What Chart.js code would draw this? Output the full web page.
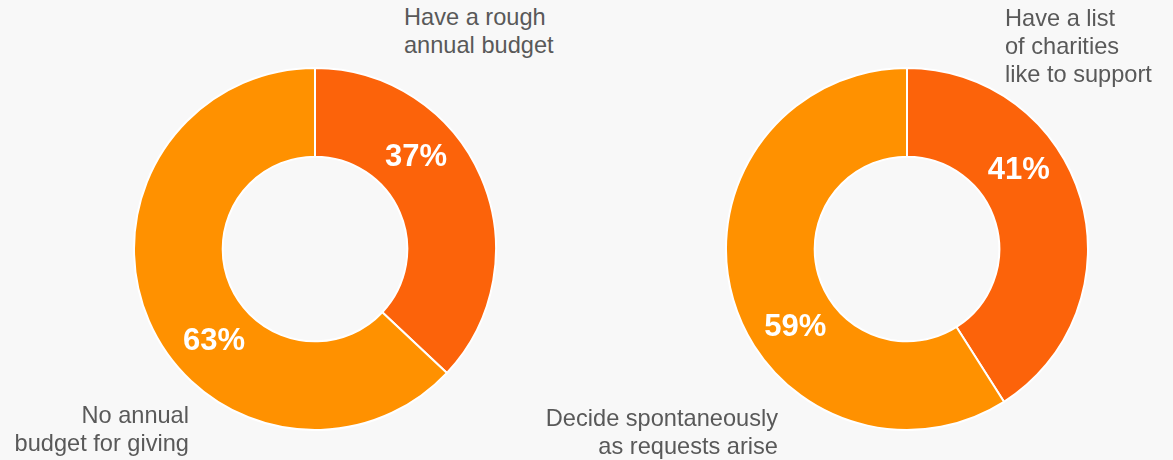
<!DOCTYPE html>
<html>
<head>
<meta charset="utf-8">
<script src="https://cdn.jsdelivr.net/npm/chart.js@4"></script>
<style>
  html, body { margin: 0; padding: 0; background: #f8f8f8; }
  #wrap { position: relative; width: 1173px; height: 460px; overflow: hidden; font-family: "Liberation Sans", Arial, sans-serif; }
  .box { position: absolute; width: 364px; height: 364px; top: 67px; }
  .lbl { position: absolute; font-size: 23.6px; line-height: 28px; color: #595959; white-space: nowrap; }
  .right { text-align: right; }
</style>
</head>
<body>
<div id="wrap">
  <div class="box" style="left:133px"><canvas id="budget"></canvas></div>
  <div class="box" style="left:725px"><canvas id="charities"></canvas></div>

  <div class="lbl" style="left:404px; top:3px">Have a rough<br>annual budget</div>
  <div class="lbl right" style="right:984px; top:401px">No annual<br>budget for giving</div>
  <div class="lbl" style="left:1005px; top:4px">Have a list<br>of charities<br>like to support</div>
  <div class="lbl right" style="right:395px; top:404px">Decide spontaneously<br>as requests arise</div>
</div>

<script>
// chart data
var budgetLabels = ['Have a rough annual budget', 'No annual budget for giving'];
var budgetValues = [37, 63];

var charityLabels = ['Have a list of charities like to support', 'Decide spontaneously as requests arise'];
var charityValues = [41, 59];

var sliceColors = ['#fc630a', '#ff9100'];

// draws the % value inside each slice, nudged back a bit from the slice middle
var percentLabels = {
    id: 'percentLabels',
    afterDatasetsDraw: function(chart) {
        var ctx = chart.ctx;
        var meta = chart.getDatasetMeta(0);
        var data = chart.data.datasets[0].data;
        ctx.save();
        ctx.fillStyle = '#ffffff';
        ctx.font = 'bold 31px "Liberation Sans", Arial, sans-serif';
        ctx.textAlign = 'center';
        ctx.textBaseline = 'middle';
        meta.data.forEach(function(arc, i) {
            var p = arc.getProps(['x', 'y', 'startAngle', 'endAngle', 'innerRadius', 'outerRadius'], true);
            var angle = (p.startAngle + p.endAngle) / 2 - 0.33;
            var r = (p.innerRadius + p.outerRadius) / 2;
            ctx.fillText(data[i] + '%', p.x + Math.cos(angle) * r, p.y + Math.sin(angle) * r);
        });
        ctx.restore();
    }
};

function makeDonut(id, labels, values) {
    return new Chart(document.getElementById(id), {
        type: 'doughnut',
        data: {
            labels: labels,
            datasets: [{
                data: values,
                backgroundColor: sliceColors,
                borderColor: '#ffffff',
                borderWidth: 2
            }]
        },
        options: {
            responsive: true,
            maintainAspectRatio: false,
            animation: false,
            cutout: '51%',
            plugins: {
                legend: { display: false },
                tooltip: { enabled: false }
            }
        },
        plugins: [percentLabels]
    });
}

makeDonut('budget', budgetLabels, budgetValues);
makeDonut('charities', charityLabels, charityValues);
</script>
</body>
</html>
